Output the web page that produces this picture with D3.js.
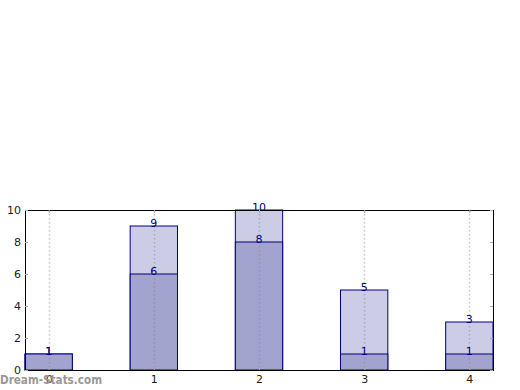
<!DOCTYPE html>
<html>
<head>
<meta charset="utf-8">
<script src="https://cdn.jsdelivr.net/npm/d3@7"></script>
<style>
  body { margin: 0; background: #fff; }
  svg { font-family: "DejaVu Sans", sans-serif; }
</style>
</head>
<body>
<div id="chart"></div>
<script>
// data
const categories = ["0", "1", "2", "3", "4"];
const totals = [1, 9, 10, 5, 3];
const parts = [1, 6, 8, 1, 1];
const yTicks = [0, 2, 4, 6, 8, 10];

const width = 520, height = 390;
const margin = {top: 210, right: 27, bottom: 20, left: 25};
const innerW = width - margin.left - margin.right;
const innerH = height - margin.top - margin.bottom;

const svg = d3.select("#chart")
  .append("svg")
  .attr("width", width)
  .attr("height", height);

const g = svg.append("g")
  .attr("transform", `translate(${margin.left},${margin.top})`);

// x as a linear scale like the original (bar width 0.45)
const barW = 0.45;
const x = d3.scaleLinear()
  .domain([-barW / 2, categories.length - 1 + barW / 2])
  .range([0, innerW]);

const y = d3.scaleLinear()
  .domain([0, 10])
  .range([innerH, 0]);

// bars: totals behind, parts in front
g.selectAll(".total")
  .data(totals)
  .enter().append("rect")
  .attr("class", "total")
  .attr("x", (d, i) => x(i - barW / 2))
  .attr("width", (d, i) => x(i + barW / 2) - x(i - barW / 2))
  .attr("y", d => y(d))
  .attr("height", d => innerH - y(d))
  .attr("fill", "#ccccE6")
  .attr("stroke", "#000080")
  .attr("stroke-width", 1);

g.selectAll(".part")
  .data(parts)
  .enter().append("rect")
  .attr("class", "part")
  .attr("x", (d, i) => x(i - barW / 2))
  .attr("width", (d, i) => x(i + barW / 2) - x(i - barW / 2))
  .attr("y", d => y(d))
  .attr("height", d => innerH - y(d))
  .attr("fill", "#a3a3cf")
  .attr("stroke", "#000080")
  .attr("stroke-width", 1);

// vertical dotted grid
g.selectAll(".grid")
  .data(categories)
  .enter().append("line")
  .attr("class", "grid")
  .attr("x1", (d, i) => Math.round(x(i)) + 0.5)
  .attr("x2", (d, i) => Math.round(x(i)) + 0.5)
  .attr("y1", 0)
  .attr("y2", innerH)
  .attr("stroke", "#888")
  .attr("stroke-opacity", 0.5)
  .attr("stroke-width", 1.5)
  .attr("stroke-dasharray", "1.5,2.5");

// labels
function addLabels(data, cls) {
  g.selectAll("." + cls)
    .data(data)
    .enter().append("text")
    .attr("class", cls)
    .attr("x", (d, i) => x(i))
    .attr("y", d => y(d) + 1)
    .attr("text-anchor", "middle")
    .attr("font-size", 11)
    .attr("fill", "#000080")
    .text(d => d);
}
addLabels(totals, "tlab");
addLabels(parts, "plab");

// frame
g.append("rect")
  .attr("x", 0.5).attr("y", 0.5)
  .attr("width", innerW).attr("height", innerH)
  .attr("fill", "none")
  .attr("stroke", "#000")
  .attr("stroke-width", 1);

// axes
const yAxis = d3.axisLeft(y).tickValues(yTicks).tickSize(-3).tickPadding(4);
const yAxisR = d3.axisRight(y).tickValues(yTicks).tickSize(-3).tickFormat("");
const xAxis = d3.axisBottom(x).tickValues(d3.range(categories.length))
  .tickFormat(i => categories[i]).tickSize(-3).tickPadding(5);
const xAxisT = d3.axisTop(x).tickValues(d3.range(categories.length))
  .tickSize(-3).tickFormat("");

function styleAxis(sel) {
  sel.select(".domain").remove();
  sel.selectAll(".tick line").attr("stroke", "#aaa");
  sel.selectAll("text").attr("font-size", 11).attr("fill", "#222")
    .attr("font-family", "DejaVu Sans, sans-serif");
}

g.append("g").call(yAxis).call(styleAxis);
g.append("g").attr("transform", `translate(${innerW},0)`).call(yAxisR).call(styleAxis);
g.append("g").attr("transform", `translate(0,${innerH})`).call(xAxis).call(styleAxis);
g.append("g").call(xAxisT).call(styleAxis);

// watermark
svg.append("text")
  .attr("x", 0)
  .attr("y", 384)
  .attr("font-size", 13)
  .attr("font-weight", "bold")
  .attr("textLength", 102)
  .attr("lengthAdjust", "spacingAndGlyphs")
  .attr("fill", "#999")
  .text("Dream-Stats.com");
</script>
</body>
</html>
